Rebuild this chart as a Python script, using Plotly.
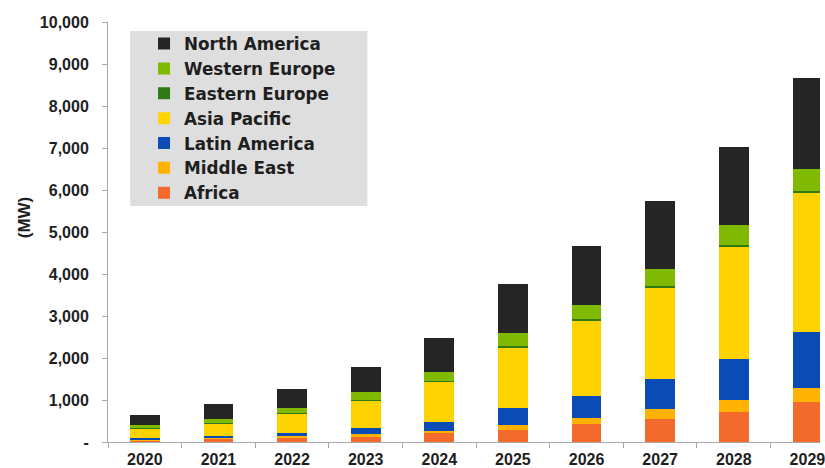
import plotly.graph_objects as go

# Installed capacity by region (MW), stacked bottom to top
years = ["2020", "2021", "2022", "2023", "2024", "2025", "2026", "2027", "2028", "2029"]

africa = [40, 80, 110, 140, 210, 290, 420, 550, 710, 950]
middle_east = [15, 20, 25, 45, 55, 125, 160, 230, 280, 330]
latin_america = [35, 50, 80, 140, 220, 405, 515, 715, 990, 1350]
asia_pacific = [235, 300, 460, 660, 950, 1435, 1790, 2190, 2670, 3300]
eastern_europe = [10, 12, 17, 20, 25, 35, 40, 35, 40, 45]
western_europe = [70, 90, 120, 180, 215, 300, 340, 400, 480, 530]
north_america = [240, 350, 450, 600, 810, 1175, 1390, 1630, 1850, 2155]

y_tick_vals = [0, 1000, 2000, 3000, 4000, 5000, 6000, 7000, 8000, 9000, 10000]
y_tick_text = ["-", "1,000", "2,000", "3,000", "4,000", "5,000",
               "6,000", "7,000", "8,000", "9,000", "10,000"]

series = [
    ("Africa", africa, "#f26a2c"),
    ("Middle East", middle_east, "#ffb300"),
    ("Latin America", latin_america, "#0b4bb5"),
    ("Asia Pacific", asia_pacific, "#ffd300"),
    ("Eastern Europe", eastern_europe, "#2f7a15"),
    ("Western Europe", western_europe, "#7fba00"),
    ("North America", north_america, "#252525"),
]

FONT = "Liberation Sans, Arial, sans-serif"
LEGEND_FONT = "DejaVu Sans, Liberation Sans, sans-serif"
TEXT = "#1e1e1e"
AXIS = "#a8a8a8"

fig = go.Figure()
for name, vals, color in series:
    fig.add_trace(go.Bar(
        x=years, y=vals, name=name,
        marker=dict(color=color, line=dict(width=0)),
    ))

fig.update_layout(
    width=825, height=468,
    margin=dict(l=108, r=0, t=22, b=26),
    barmode="stack",
    bargap=0.595,
    plot_bgcolor="white",
    paper_bgcolor="white",
    font=dict(family=FONT, color=TEXT, size=16, weight="bold"),
    showlegend=True,
    legend=dict(
        x=0.0506, xanchor="left",
        y=0.99, yanchor="top",
        traceorder="reversed",
        bgcolor="rgba(0,0,0,0)",
        borderwidth=0,
        font=dict(family=LEGEND_FONT, size=16.8, color=TEXT, weight="bold"),
        itemwidth=30,
    ),
    xaxis=dict(
        type="category",
        range=[-0.5, 9.171],
        showline=True, linecolor=AXIS, linewidth=1,
        ticks="outside", tickson="boundaries", ticklen=5, tickcolor=AXIS,
        ticklabelstandoff=3,
        showgrid=False, zeroline=False,
        tickfont=dict(family=FONT, size=16, color=TEXT, weight="bold"),
    ),
    yaxis=dict(
        range=[0, 10000],
        tickvals=y_tick_vals, ticktext=y_tick_text,
        showline=True, linecolor=AXIS, linewidth=1,
        ticks="outside", ticklen=5, tickcolor=AXIS,
        ticklabelstandoff=10,
        showgrid=False, zeroline=False,
        tickfont=dict(family=FONT, size=16, color=TEXT, weight="bold"),
    ),
    shapes=[dict(
        type="rect", xref="paper", yref="paper",
        x0=0.0311, x1=0.3643, y0=0.5619, y1=0.9786,
        fillcolor="#dedede", line=dict(width=0), layer="below",
    )],
    annotations=[dict(
        text="(MW)", xref="paper", yref="paper",
        x=-0.118, y=0.535, xanchor="center", yanchor="middle",
        textangle=-90, showarrow=False,
        font=dict(family=FONT, size=17, color=TEXT, weight="bold"),
    )],
)

fig.write_html("out.html")
